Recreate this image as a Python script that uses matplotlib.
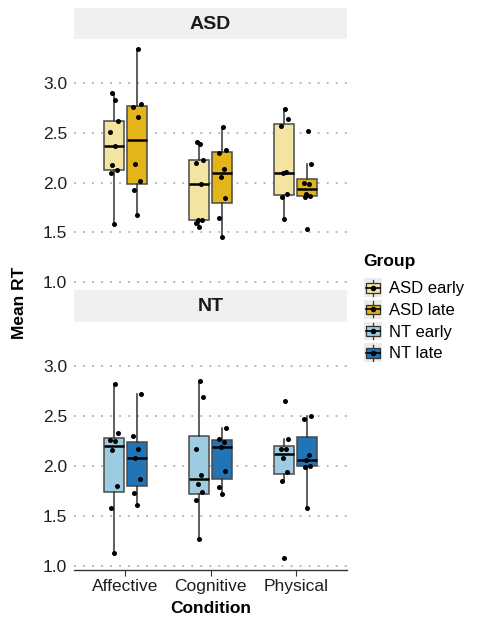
import matplotlib
matplotlib.use("Agg")
import matplotlib.pyplot as plt
import numpy as np
from matplotlib.patches import Rectangle
from matplotlib.lines import Line2D
from matplotlib.legend_handler import HandlerBase

plt.rcParams['font.family'] = ['Liberation Sans', 'DejaVu Sans']

conditions = ["Affective", "Cognitive", "Physical"]
groups = ["ASD early", "ASD late", "NT early", "NT late"]
colors = {"ASD early": "#F3E5A1", "ASD late": "#E3B51B",
          "NT early": "#9DCBE0", "NT late": "#2174B5"}

# mean RT per participant
asd_early = {
    "Affective": [1.587, 2.10, 2.128, 2.18, 2.373, 2.513, 2.617, 2.836, 2.90],
    "Cognitive": [1.557, 1.60, 1.621, 1.63, 1.987, 2.195, 2.23, 2.389, 2.413],
    "Physical": [1.634, 1.86, 1.883, 2.094, 2.107, 2.57, 2.644, 2.745],
}
asd_late = {
    "Affective": [1.671, 1.923, 2.013, 2.19, 2.664, 2.765, 2.789, 3.342],
    "Cognitive": [1.456, 1.644, 1.846, 2.057, 2.134, 2.30, 2.326, 2.564],
    "Physical": [1.537, 1.856, 1.866, 1.886, 1.983, 1.993, 2.19, 2.517],
}
nt_early = {
    "Affective": [1.135, 1.582, 1.803, 2.16, 2.25, 2.264, 2.338, 2.829],
    "Cognitive": [1.276, 1.666, 1.743, 1.824, 1.914, 2.173, 2.691, 2.855],
    "Physical": [1.081, 1.854, 1.948, 2.082, 2.173, 2.176, 2.271, 2.657],
}
nt_late = {
    "Affective": [1.615, 1.729, 1.871, 2.079, 2.176, 2.308, 2.724],
    "Cognitive": [1.723, 1.79, 1.958, 2.193, 2.244, 2.277, 2.385],
    "Physical": [1.582, 1.992, 2.005, 2.059, 2.116, 2.469, 2.503],
}

panels = [("ASD", [("ASD early", asd_early), ("ASD late", asd_late)]),
          ("NT", [("NT early", nt_early), ("NT late", nt_late)])]

# fixed (non-random) jitter pattern
jit = [0.0, -0.03, 0.035, -0.015, 0.02, -0.04, 0.045, 0.01, -0.025]

W, H = 479, 623
fig = plt.figure(figsize=(W / 100, H / 100), dpi=100)

ax_left = 74 / W
ax_w = 273 / W
panel_px = [(38.5, 285.5, 8), (321.5, 569.5, 290)]
ylim = (0.967, 3.45)
txt_col = "#1e1e1e"
tick_fs = 12.5

for (name, series), (top, bot, stop) in zip(panels, panel_px):
    ax = fig.add_axes([ax_left, 1 - bot / H, ax_w, (bot - top) / H])
    sax = fig.add_axes([ax_left, 1 - top / H, ax_w, (top - stop) / H])
    sax.set_facecolor("#f0f0f0")
    sax.set_xticks([]); sax.set_yticks([])
    for s in sax.spines.values():
        s.set_visible(False)
    sax.text(0.5, 0.47, name, ha="center", va="center", fontsize=14,
             fontweight="bold", color="#1a1a1a", transform=sax.transAxes)

    for gi, (gname, d) in enumerate(series):
        off = -0.135 if gi == 0 else 0.135
        pos = np.arange(len(conditions)) + 1 + off
        vals = [d[c] for c in conditions]
        ax.boxplot(vals, positions=pos, widths=0.235, patch_artist=True,
                   showfliers=False, showcaps=False,
                   boxprops=dict(facecolor=colors[gname], edgecolor="#4a4a4a", linewidth=1.1),
                   medianprops=dict(color="black", linewidth=1.8),
                   whiskerprops=dict(color="#333333", linewidth=1.1))
        for p, v in zip(pos, vals):
            xs = p + np.array(jit[:len(v)])
            ax.scatter(xs, v, s=13, color="black", zorder=5, linewidths=0)

    ax.set_xlim(0.4, 3.6)
    ax.set_ylim(*ylim)
    ax.set_yticks([1.0, 1.5, 2.0, 2.5, 3.0])
    ax.set_yticklabels(["1.0", "1.5", "2.0", "2.5", "3.0"], fontsize=tick_fs, color=txt_col)
    ax.yaxis.grid(True, linestyle=(0, (1, 4)), color="#b0b0b0", linewidth=1.3)
    ax.set_axisbelow(True)
    ax.tick_params(axis="y", length=0, pad=5)
    for s in ["top", "right", "left"]:
        ax.spines[s].set_visible(False)
    ax.set_xticks([1, 2, 3])
    if name == "ASD":
        ax.spines["bottom"].set_visible(False)
        ax.tick_params(axis="x", length=0, labelbottom=False)
    else:
        ax.spines["bottom"].set_color("#333333")
        ax.spines["bottom"].set_linewidth(1.0)
        ax.set_xticklabels(conditions, fontsize=tick_fs, color=txt_col)
        ax.tick_params(axis="x", length=4, color="#333333", pad=3)
        ax.set_xlabel("Condition", fontsize=12.5, fontweight="bold", labelpad=5)

fig.text(20 / W, 1 - 303 / H, "Mean RT", rotation=90, ha="center", va="center",
         fontsize=12.5, fontweight="bold")


class BoxHandler(HandlerBase):
    def create_artists(self, legend, orig_handle, xdescent, ydescent, width, height, fontsize, trans):
        fc = orig_handle.get_facecolor()
        x0, y0 = -xdescent, -ydescent
        bg = Rectangle((x0, y0 - 1), width, height + 2, facecolor="#ebebeb", edgecolor="none", transform=trans)
        bx = Rectangle((x0 + 1.5, y0 + height * 0.2), width - 3, height * 0.6,
                       facecolor=fc, edgecolor="#333333", linewidth=0.9, transform=trans)
        cx = x0 + width / 2
        wl = Line2D([cx, cx], [y0, y0 + height], color="#333333", linewidth=0.9, transform=trans)
        ml = Line2D([x0 + 1.5, x0 + width - 1.5], [y0 + height / 2] * 2, color="black",
                    linewidth=1.2, transform=trans)
        dot = Line2D([cx], [y0 + height / 2], marker="o", markersize=3, color="black", transform=trans)
        return [bg, wl, bx, ml, dot]


handles = [Rectangle((0, 0), 1, 1, facecolor=colors[g]) for g in groups]
leg = fig.legend(handles, groups, title="Group", loc="upper left",
                 bbox_to_anchor=(352 / W, 1 - 242 / H), frameon=False,
                 handler_map={Rectangle: BoxHandler()}, fontsize=12,
                 handlelength=1.1, handleheight=1.1, handletextpad=0.4,
                 labelspacing=0.3, borderpad=0.2)
leg.get_title().set_fontweight("bold")
leg.get_title().set_fontsize(12.5)
leg._legend_box.align = "left"
leg._legend_box.sep = 8

fig.savefig("out.png", dpi=100)
